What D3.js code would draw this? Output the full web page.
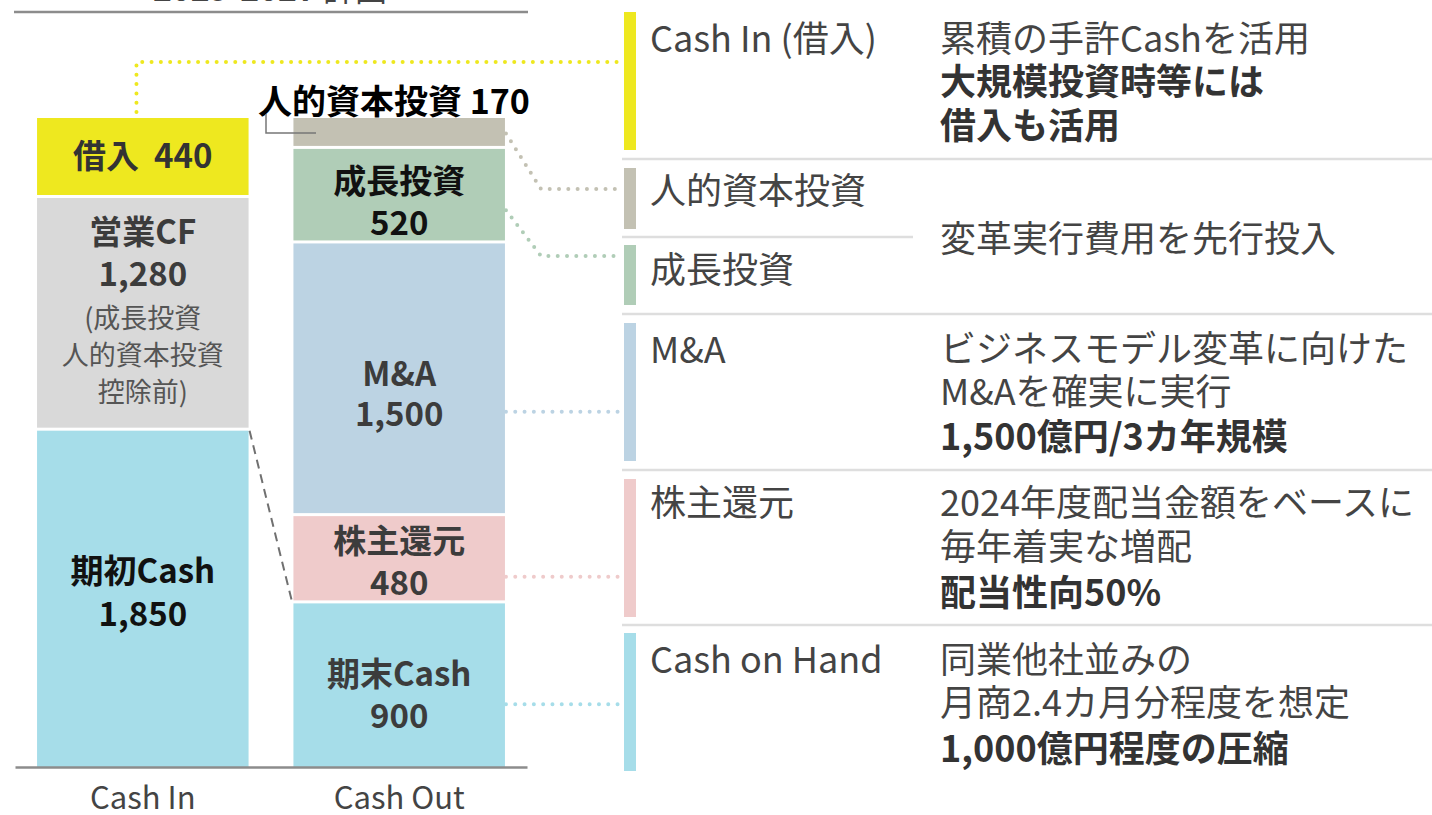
<!DOCTYPE html>
<html>
<head>
<meta charset="utf-8">
<script src="https://cdn.jsdelivr.net/npm/d3@7"></script>
<style>
  body { margin: 0; background: #fff; }
  svg { display: block; font-family: "Noto Sans CJK JP", "Noto Sans", sans-serif; }
</style>
</head>
<body>
<svg id="chart" width="1432" height="815"></svg>
<script>
// data
const columns = ["Cash In", "Cash Out"];
const inNames = ["期初Cash", "営業CF", "借入"];
const inValues = [1850, 1280, 440];
const outNames = ["期末Cash", "株主還元", "M&A", "成長投資", "人的資本投資"];
const outValues = [900, 480, 1500, 520, 170];
const cfNote = ["(成長投資", "人的資本投資", "控除前)"];
const headerText = ["2025-2027", " 計画"];

const panelTitles = ["Cash In (借入)", "人的資本投資", "成長投資", "M&A", "株主還元", "Cash on Hand"];
const panelNotes = [
  [["累積の手許Cashを活用", false], ["大規模投資時等には", true], ["借入も活用", true]],
  [["変革実行費用を先行投入", false]],
  [],
  [["ビジネスモデル変革に向けた", false], ["M&Aを確実に実行", false], ["1,500億円/3カ年規模", true]],
  [["2024年度配当金額をベースに", false], ["毎年着実な増配", false], ["配当性向50%", true]],
  [["同業他社並みの", false], ["月商2.4カ月分程度を想定", false], ["1,000億円程度の圧縮", true]]
];

// colours
const inColors = ["#a6dde9", "#d9d9d9", "#eee81f"];
const outColors = ["#a6dde9", "#efcbcb", "#bcd3e3", "#b0cdb7", "#c3c1b3"];
const panelColors = ["#eee81f", "#c3c1b3", "#b0cdb7", "#bcd3e3", "#efcbcb", "#a6dde9"];
const dotColors = ["#eee81f", "#c3c1b3", "#b0cdb7", "#bcd3e3", "#efcbcb", "#a6dde9"];

const svg = d3.select("#chart");
const fmt = d3.format(",");

const x = d3.scaleBand().domain(columns).range([15, 527]).paddingInner(0.175).paddingOuter(0.086);
const y = d3.scaleLinear().domain([0, d3.sum(inValues)]).range([767, 118]);

function stack(vals) {
  let acc = 0;
  return vals.map(v => { const s = {y0: acc, y1: acc + v, v: v}; acc += v; return s; });
}
const inStack = stack(inValues);
const outStack = stack(outValues);

// header (mostly cut off at the top edge)
const head = svg.append("text").attr("x", 270).attr("y", 1).attr("text-anchor", "middle")
  .attr("font-size", 32).attr("fill", "#444");
head.append("tspan").attr("font-weight", "bold").text(headerText[0]);
head.append("tspan").text(headerText[1]);
svg.append("line").attr("x1", 14).attr("x2", 528).attr("y1", 12).attr("y2", 12)
  .attr("stroke", "#8c8c8c").attr("stroke-width", 2.5);

// bars
function drawBars(col, st, colors) {
  svg.append("g").selectAll("rect").data(st).enter().append("rect")
    .attr("x", x(col))
    .attr("width", x.bandwidth())
    .attr("y", d => y(d.y1))
    .attr("height", (d, i) => y(d.y0) - y(d.y1) - (i > 0 ? 3 : 0))
    .attr("fill", (d, i) => colors[i]);
}
drawBars("Cash In", inStack, inColors);
drawBars("Cash Out", outStack, outColors);

// labels inside bars
function label(col, seg, lines, gaps, offset) {
  const cx = x(col) + x.bandwidth() / 2;
  const total = d3.sum(gaps);
  const c = (y(seg.y0) + y(seg.y1)) / 2 + offset;
  let cy = c - total / 2;
  const ys = [];
  lines.forEach((l, i) => {
    svg.append("text").attr("x", cx).attr("y", cy)
      .attr("text-anchor", "middle").attr("dominant-baseline", "central")
      .attr("font-size", l.size).attr("font-weight", l.bold ? "bold" : "normal")
      .attr("fill", l.color).text(l.t);
    ys.push(cy);
    cy += gaps[i] || 0;
  });
  return ys;
}
const B = (t, color) => ({t: t, bold: true, size: 33, color: color || "#3c3c3c"});

label("Cash In", inStack[2], [B(inNames[2] + "\u00a0\u00a0" + fmt(inValues[2]), "#333")], [], -4);
label("Cash In", inStack[1], [B(inNames[1]), B(fmt(inValues[1])),
  ...cfNote.map(t => ({t: t, bold: false, size: 27, color: "#555"}))], [42, 44, 37, 37], -4);
label("Cash In", inStack[0], [B(inNames[0], "#111"), B(fmt(inValues[0]), "#111")], [43], -8);

const outY = [];
outY[0] = label("Cash Out", outStack[0], [B(outNames[0]), B(fmt(outValues[0]))], [42], 8);
outY[1] = label("Cash Out", outStack[1], [B(outNames[1]), B(fmt(outValues[1]))], [42], 0);
outY[2] = label("Cash Out", outStack[2], [B(outNames[2]), B(fmt(outValues[2]))], [40], 12);
outY[3] = label("Cash Out", outStack[3], [B(outNames[3], "#111"), B(fmt(outValues[3]), "#111")], [42], 4);

// human capital label above the bar
svg.append("text").attr("x", 258).attr("y", 99).attr("dominant-baseline", "central")
  .attr("font-size", 34).attr("font-weight", "bold").attr("fill", "#000")
  .text(outNames[4] + " " + fmt(outValues[4]));
svg.append("path").attr("d", "M266,114V133H316").attr("fill", "none")
  .attr("stroke", "#777").attr("stroke-width", 1.5);

// axis
const axis = svg.append("g").attr("transform", "translate(0,767)")
  .call(d3.axisBottom(x).tickSize(0).tickPadding(20));
axis.select(".domain").attr("stroke", "#8c8c8c").attr("stroke-width", 2.5);
axis.selectAll("text").attr("font-size", 31).attr("fill", "#444")
  .attr("font-family", "\"Noto Sans CJK JP\", sans-serif");

// dashed link from opening cash to closing cash
svg.append("line")
  .attr("x1", x("Cash In") + x.bandwidth() + 1).attr("y1", y(inStack[0].y1))
  .attr("x2", x("Cash Out") - 1).attr("y2", y(outStack[0].y1))
  .attr("stroke", "#707070").attr("stroke-width", 2).attr("stroke-dasharray", "9 6");

// dotted connectors
function dotted(d, color) {
  svg.append("path").attr("d", d).attr("fill", "none").attr("stroke", color)
    .attr("stroke-width", 4).attr("stroke-linecap", "round").attr("stroke-dasharray", "0 9.3");
}
const xr = x("Cash Out") + x.bandwidth() + 1;
const xIn = x("Cash In") + x.bandwidth() * 0.47;
dotted(`M${xIn},${y(inStack[2].y1) - 6}V62H622`, dotColors[0]);
dotted(`M${xr},${(y(outStack[4].y0) + y(outStack[4].y1)) / 2}L541,189H622`, dotColors[1]);
dotted(`M${xr},${(y(outStack[3].y0) + y(outStack[3].y1)) / 2 + 14}L541,256H622`, dotColors[2]);
dotted(`M${xr},${outY[2][1]}H622`, dotColors[3]);
dotted(`M${xr},${outY[1][1] - 4}H622`, dotColors[4]);
dotted(`M${xr},${outY[0][1] - 10}H622`, dotColors[5]);

// right panel
const rowBars = [[12, 150], [168, 229], [245, 305], [323, 461], [479, 617], [633, 771]];
const titleY = [36, 188, 267, 347, 500, 657];
const noteY = [[36, 79, 123], [236], [], [346, 389, 434], [500, 544, 590], [657, 700, 746]];
const seps = [[159, 1432], [237, 913], [314, 1432], [470, 1432], [625, 1432]];

const panel = svg.append("g");
panel.selectAll("line.sep").data(seps).enter().append("line")
  .attr("x1", 622).attr("x2", d => d[1]).attr("y1", d => d[0]).attr("y2", d => d[0])
  .attr("stroke", "#dedede").attr("stroke-width", 2.5);
panel.selectAll("rect").data(rowBars).enter().append("rect")
  .attr("x", 624).attr("width", 12).attr("y", d => d[0]).attr("height", d => d[1] - d[0])
  .attr("fill", (d, i) => panelColors[i]);
panel.selectAll("text.title").data(panelTitles).enter().append("text")
  .attr("x", 650).attr("y", (d, i) => titleY[i]).attr("dominant-baseline", "central")
  .attr("font-size", 36).attr("fill", "#444").text(d => d);
panelNotes.forEach((lines, r) => {
  lines.forEach((l, k) => {
    panel.append("text").attr("x", 940).attr("y", noteY[r][k]).attr("dominant-baseline", "central")
      .attr("font-size", 36).attr("font-weight", l[1] ? "bold" : "normal")
      .attr("fill", l[1] ? "#333" : "#444").text(l[0]);
  });
});
</script>
</body>
</html>
